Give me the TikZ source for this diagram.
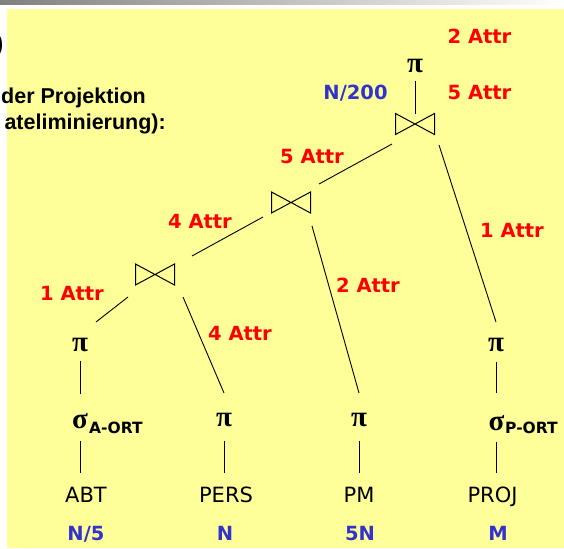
\documentclass[tikz,border=0pt]{standalone}
\usepackage{fontspec}
\setmainfont{DejaVu Sans}
\newfontfamily\dvs{DejaVu Sans}
\newfontfamily\libsans{Liberation Sans}
\newfontfamily\grk{Liberation Serif}
\definecolor{bgyellow}{HTML}{FFFF99}
\definecolor{attrred}{HTML}{FF0000}
\definecolor{cardblue}{HTML}{3333CC}
\definecolor{bargray}{RGB}{128,128,128}
\begin{document}
\begin{tikzpicture}[x=1pt,y=-1pt,
  attr/.style={font={\dvs\bfseries\fontsize{19.5pt}{21pt}\selectfont}, text=attrred, anchor=base, inner sep=0pt},
  card/.style={font={\dvs\bfseries\fontsize{19.5pt}{21pt}\selectfont}, text=cardblue, anchor=base, inner sep=0pt},
  rel/.style={font={\dvs\fontsize{21pt}{23pt}\selectfont}, text=black, anchor=base, inner sep=0pt},
  op/.style={font={\grk\bfseries\fontsize{29pt}{30pt}\selectfont}, text=black, inner sep=0pt},
  subtxt/.style={font={\dvs\bfseries\fontsize{15.5pt}{17pt}\selectfont}, text=black, anchor=base west, inner sep=0pt},
  toptxt/.style={font={\libsans\bfseries\fontsize{21.5pt}{23pt}\selectfont}, text=black, anchor=base east, inner sep=0pt},
  joinbox/.style={minimum width=39pt, minimum height=21pt, inner sep=0pt, outer sep=0pt},
  joinline/.style={line width=1pt, black},
  conn/.style={line width=0.9pt, black}
]
\useasboundingbox (0,0) rectangle (564,548);
\clip (0,0) rectangle (564,548);
% background
\fill[white] (0,0) rectangle (564,548);
\shade[left color=bargray, right color=white] (0,0) rectangle (564,4.3);
\fill[bgyellow] (7,9) rectangle (564,548);

% clipped heading text
\node[toptxt, font={\libsans\bfseries\fontsize{24pt}{26pt}\selectfont}] (paren) at (3.5,52) {)};
\node[toptxt] (t1) at (146,103.5) {der Projektion};
\node[toptxt] (t2) at (166,130) {ateliminierung):};

% operators
\node[op] (topPi) at (415,66) {π};
\node[joinbox] (topJ) at (415,124) {};
\node[joinbox] (midJ) at (291,202.5) {};
\node[joinbox] (botJ) at (155,274.5) {};
\node[op] (piL) at (80,345) {π};
\node[op] (piR) at (496,345) {π};
\node[op] (sigA) at (80,421.5) {σ};
\node[subtxt] (subA) at (89,433) {A-ORT};
\node[op] (piPERS) at (224,420) {π};
\node[op] (piPM) at (359,420) {π};
\node[op] (sigP) at (496.5,423) {σ};
\node[subtxt] (subP) at (505,433) {P-ORT};

\foreach \j in {topJ,midJ,botJ}
  \draw[joinline] (\j.north west) -- (\j.south east) -- (\j.north east) -- (\j.south west) -- cycle;

% relations
\node[rel] (ABT) at (86,502) {ABT};
\node[rel] (PERS) at (226,502) {PERS};
\node[rel] (PM) at (359,502) {PM};
\node[rel] (PROJ) at (492.5,502) {PROJ};

% cardinalities
\node[card] (cABT) at (86,540) {N/5};
\node[card] (cPERS) at (225,540) {N};
\node[card] (cPM) at (360,540) {5N};
\node[card] (cPROJ) at (498,540) {M};
\node[card] (cTop) at (355.5,100) {N/200};

% attribute labels
\node[attr] (a1) at (479.5,44) {2 Attr};
\node[attr] (a2) at (479.5,100) {5 Attr};
\node[attr] (a3) at (312,163.5) {5 Attr};
\node[attr] (a4) at (200,228.5) {4 Attr};
\node[attr] (a5) at (72,300.5) {1 Attr};
\node[attr] (a6) at (240,340.5) {4 Attr};
\node[attr] (a7) at (368,292.5) {2 Attr};
\node[attr] (a8) at (512,237) {1 Attr};

% connectors
\draw[conn] ([shift={(0,15)}]topPi.center) -- ([shift={(0,-10)}]topJ.center);
\draw[conn] ([shift={(-23,20)}]topJ.center) -- ([shift={(28,-18.5)}]midJ.center);
\draw[conn] ([shift={(24,21)}]topJ.center) -- ([shift={(0,-23)}]piR.center);
\draw[conn] ([shift={(-28,14.5)}]midJ.center) -- ([shift={(37,-18.5)}]botJ.center);
\draw[conn] ([shift={(21,23.5)}]midJ.center) -- ([shift={(0,-27)}]piPM.center);
\draw[conn] ([shift={(-27,22.5)}]botJ.center) -- ([shift={(16,-23)}]piL.center);
\draw[conn] ([shift={(28,22.5)}]botJ.center) -- ([shift={(0,-27)}]piPERS.center);
\draw[conn] ([shift={(0,16)}]piL.center) -- ([shift={(0,-27.5)}]sigA.center);
\draw[conn] ([shift={(0,19.5)}]sigA.center) -- ([shift={(-6,-29)}]ABT.base);
\draw[conn] ([shift={(0,21)}]piPERS.center) -- ([shift={(-2,-29)}]PERS.base);
\draw[conn] ([shift={(0,21)}]piPM.center) -- ([shift={(0,-29)}]PM.base);
\draw[conn] ([shift={(0,17)}]piR.center) -- ([shift={(-0.5,-30)}]sigP.center);
\draw[conn] ([shift={(-0.5,19)}]sigP.center) -- ([shift={(3.5,-29)}]PROJ.base);
\end{tikzpicture}
\end{document}
